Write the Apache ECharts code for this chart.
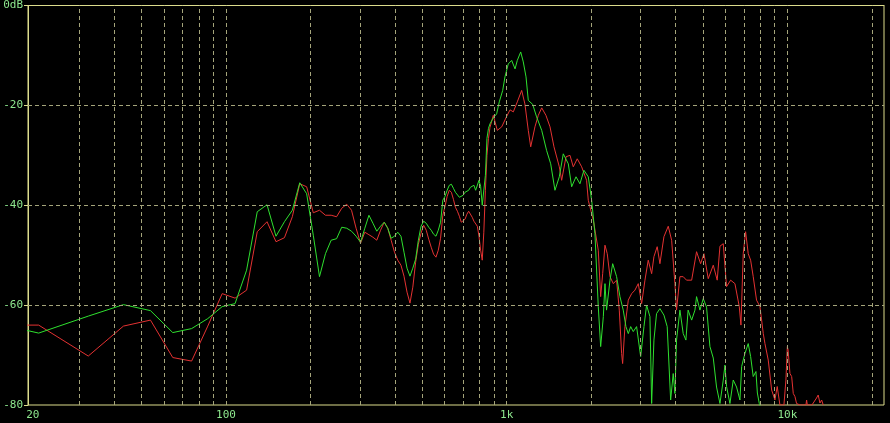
<!DOCTYPE html>
<html>
<head>
<meta charset="utf-8">
<script src="https://cdn.jsdelivr.net/npm/echarts@6/dist/echarts.min.js"></script>
<style>
html,body{margin:0;padding:0;background:#000;}
#c{width:890px;height:423px;}
</style>
</head>
<body>
<div id="c"></div>
<script>
// ---- tick labels ----
const xTickValues = [20, 100, 1000, 10000];
const xTickLabels = ['20', '100', '1k', '10k'];
const yTickValues = [0, -20, -40, -60, -80];
const yTickLabels = ['0dB', '-20', '-40', '-60', '-80'];
const gridFreqs = [30, 40, 50, 60, 70, 80, 90, 100, 200, 300, 400, 500, 600, 700, 800, 900,
  1000, 2000, 3000, 4000, 5000, 6000, 7000, 8000, 9000, 10000, 20000];
const gridDbs = [-20, -40, -60];

// ---- red trace (Hz, dB) ----
const redFreq = [10.8, 21.5, 32.3, 43.1, 53.8, 64.6, 75.4, 86.1, 96.9, 107.7, 118.4, 129.2, 140.0, 150.7, 161.5, 172.3, 183.1, 193.8, 204.6, 215.3,
  226.1, 236.9, 247.7, 258.4, 269.2, 280.0, 290.7, 301.5, 312.3, 323.0, 333.8, 344.5, 355.3, 366.2, 377.0, 387.6, 398.4, 409.2, 420.0, 430.7,
  441.5, 452.3, 463.0, 473.8, 484.5, 495.3, 506.0, 516.8, 527.6, 538.3, 549.0, 559.9, 570.6, 581.4, 592.2, 603.0, 613.7, 624.5, 635.3, 646.0,
  656.7, 667.5, 678.3, 689.0, 699.8, 710.6, 721.4, 732.1, 742.9, 753.7, 764.4, 775.2, 786.0, 796.7, 807.5, 818.3, 829.0, 839.8, 850.6, 861.3,
  872, 896, 926, 960, 1000, 1028, 1056, 1091, 1131, 1161, 1194, 1218, 1261, 1296, 1333, 1380, 1427, 1474, 1540, 1570,
  1627, 1681, 1727, 1784, 1850, 1926, 1953, 2036, 2120, 2162, 2198, 2240, 2282, 2334, 2398, 2464, 2519, 2568, 2589, 2638,
  2712, 2788, 2864, 2943, 3026, 3109, 3194, 3285, 3347, 3438, 3516, 3633, 3764, 3870, 3976, 4029, 4142, 4256, 4373, 4561,
  4748, 4910, 5045, 5226, 5446, 5625, 5753, 5911, 6073, 6280, 6505, 6741, 6834, 6964, 7101, 7255, 7400, 7559, 7767, 7988,
  8208, 8322, 8550, 8792, 9032, 9202, 9410, 9724, 9884, 10000, 10064, 10217, 10361, 10498, 10644, 10786, 11090, 11650, 11711, 11780,
  12236, 12707, 12880, 13065, 13249, 13424];
const redDb = [-64.0, -64.0, -70.2, -64.2, -63.0, -70.5, -71.2, -64.2, -57.7, -58.6, -57.0, -45.3, -43.3, -47.3, -46.5, -42.3, -35.7, -36.3, -41.5, -41.0,
  -42.0, -42.0, -42.3, -40.6, -39.8, -41.0, -44.6, -47.6, -45.4, -45.9, -46.4, -47.0, -45.0, -43.4, -44.6, -47.0, -49.4, -51.0, -52.0, -54.2,
  -57.4, -59.6, -56.4, -51.4, -47.8, -45.6, -44.0, -45.0, -46.8, -48.4, -49.8, -50.4, -49.0, -46.6, -42.0, -40.2, -38.2, -37.0, -37.4, -38.8,
  -40.4, -41.2, -42.2, -43.4, -43.8, -42.8, -41.8, -41.2, -41.6, -42.4, -43.2, -43.6, -44.2, -46.2, -49.0, -51.0, -45.4, -37.0, -30.0, -26.6,
  -24.4, -22.0, -25.0, -24.3, -22.2, -20.9, -21.3, -19.3, -17.0, -19.7, -25.0, -28.3, -24.3, -22.0, -20.5, -22.0, -24.3, -28.3, -32.3, -35.0,
  -30.3, -30.0, -32.3, -30.7, -32.3, -35.0, -39.0, -43.0, -49.0, -58.3, -53.7, -48.0, -49.7, -54.3, -55.7, -55.0, -61.0, -69.7, -71.7, -64.3,
  -59.0, -57.7, -57.0, -55.7, -59.7, -55.0, -51.0, -53.7, -50.3, -48.3, -51.7, -46.3, -44.2, -47.0, -55.7, -61.0, -54.3, -54.3, -55.0, -55.0,
  -49.3, -51.7, -49.7, -54.7, -52.0, -55.0, -48.2, -47.7, -56.3, -55.0, -55.7, -60.3, -64.0, -49.7, -45.3, -49.7, -51.0, -54.3, -59.0, -60.3,
  -65.7, -67.7, -71.0, -77.0, -79.0, -76.3, -80.0, -80.0, -75.0, -68.3, -69.0, -73.7, -74.3, -77.7, -78.3, -79.7, -80.0, -80.0, -79.0, -80.0,
  -80.0, -78.6, -78.0, -79.6, -79.0, -80.0];

// ---- green trace (Hz, dB) ----
const greenFreq = [10.8, 21.5, 32.3, 43.1, 53.8, 64.6, 75.4, 86.1, 96.9, 107.7, 118.4, 129.2, 140.0, 150.7, 161.5, 172.3, 183.1, 193.8, 204.6, 215.3,
  226.1, 236.9, 247.7, 258.4, 269.2, 280.0, 290.7, 301.5, 312.3, 323.0, 333.8, 344.5, 355.3, 366.2, 377.0, 387.6, 398.4, 409.2, 420.0, 430.7,
  441.5, 452.3, 463.0, 473.8, 484.5, 495.3, 506.0, 516.8, 527.6, 538.3, 549.0, 559.9, 570.6, 581.4, 592.2, 603.0, 613.7, 624.5, 635.3, 646.0,
  656.7, 667.5, 678.3, 689.0, 699.8, 710.6, 721.4, 732.1, 742.9, 753.7, 764.4, 775.2, 786.0, 796.7, 807.5, 818.3, 829.0, 839.8, 850.6, 861.3,
  872, 896, 921, 941, 968, 986, 1013, 1042, 1071, 1091, 1122, 1146, 1172, 1194, 1238, 1278, 1333, 1387, 1435, 1486,
  1540, 1591, 1658, 1704, 1766, 1824, 1885, 1953, 2008, 2063, 2120, 2162, 2210, 2240, 2269, 2334, 2386, 2464, 2533, 2602,
  2660, 2712, 2766, 2825, 2903, 3002, 3084, 3151, 3239, 3285, 3347, 3420, 3516, 3633, 3732, 3839, 3921, 3976, 4029, 4142,
  4256, 4351, 4430, 4561, 4686, 4748, 4882, 5016, 5154, 5299, 5446, 5594, 5753, 5911, 5994, 6073, 6244, 6416, 6592, 6778,
  6874, 6964, 7061, 7255, 7400, 7559, 7728, 7820, 7944, 8121];
const greenDb = [-61.8, -65.6, -62.2, -59.9, -61.1, -65.5, -64.7, -62.7, -60.3, -59.7, -53.0, -41.3, -39.9, -46.2, -43.3, -41.0, -35.5, -37.7, -46.0, -54.3,
  -49.7, -47.0, -46.7, -44.4, -44.6, -45.2, -46.2, -47.4, -44.6, -42.0, -43.6, -45.2, -44.2, -43.4, -44.6, -46.6, -46.2, -45.4, -46.2, -49.4,
  -52.6, -54.2, -52.6, -50.8, -47.0, -44.2, -43.2, -43.6, -44.4, -45.0, -45.8, -46.2, -45.0, -43.4, -39.0, -38.2, -37.0, -36.0, -35.8, -36.6,
  -37.4, -37.8, -38.4, -38.6, -38.0, -37.4, -37.2, -37.0, -36.4, -36.2, -36.0, -37.0, -37.4, -35.0, -36.2, -40.0, -40.4, -34.0, -26.6, -24.6,
  -23.7, -22.5, -21.7, -19.3, -17.0, -14.3, -11.7, -11.0, -12.7, -11.0, -9.3, -11.3, -14.3, -19.0, -19.8, -22.3, -25.0, -29.0, -31.7, -37.0,
  -34.3, -29.7, -31.7, -36.3, -34.3, -35.7, -33.0, -34.3, -39.0, -45.7, -60.3, -68.3, -62.3, -55.7, -61.0, -55.0, -51.7, -54.3, -58.3, -61.0,
  -64.3, -65.7, -64.3, -65.3, -64.3, -70.3, -64.3, -60.0, -62.3, -79.7, -67.0, -61.7, -60.7, -62.0, -64.3, -79.0, -73.7, -77.7, -67.0, -61.0,
  -65.7, -67.0, -61.0, -63.0, -61.0, -58.3, -61.0, -58.7, -60.4, -68.3, -70.6, -76.4, -79.7, -75.0, -72.0, -76.3, -79.7, -75.0, -76.4, -79.0,
  -72.3, -71.0, -69.7, -67.7, -70.3, -74.3, -73.3, -77.6, -79.7, -81.0];

const FRAME = '#dcdc8c';
const GRIDC = '#a4a47a';
const LABEL = '#8ee88e';

const chart = echarts.init(document.getElementById('c'), null, {renderer: 'canvas'});
const gridLineData = gridFreqs.map(f => ({xAxis: f})).concat(gridDbs.map(d => ({yAxis: d})));

chart.setOption({
  backgroundColor: '#000',
  animation: false,
  grid: {left: 28, top: 5, width: 856, height: 400, show: true, borderColor: FRAME, borderWidth: 1, backgroundColor: '#000'},
  xAxis: {
    type: 'log', logBase: 10, min: 19.7, max: 22100,
    axisLine: {show: true, lineStyle: {color: FRAME, width: 1}},
    axisTick: {show: false},
    minorTick: {show: false},
    splitLine: {show: false},
    axisLabel: {
      customValues: xTickValues,
      color: LABEL, fontFamily: 'DejaVu Sans Mono', fontSize: 11, margin: 5,
      formatter: function (v) {
        const i = xTickValues.indexOf(Math.round(v));
        const t = i >= 0 ? xTickLabels[i] : '';
        return i === 0 ? '{a|' + t + '}' : t;
      },
      rich: {a: {color: LABEL, fontFamily: 'DejaVu Sans Mono', fontSize: 11, padding: [0, 0, 0, 6]}}
    }
  },
  yAxis: {
    type: 'value', min: -80, max: 0, interval: 20,
    axisLine: {show: true, lineStyle: {color: FRAME, width: 1}},
    axisTick: {show: true, length: 4, lineStyle: {color: FRAME}},
    splitLine: {show: false},
    axisLabel: {
      color: LABEL, fontFamily: 'DejaVu Sans Mono', fontSize: 11, margin: 5,
      formatter: function (v) {
        const i = yTickValues.indexOf(v);
        return i >= 0 ? yTickLabels[i] : '';
      }
    }
  },
  series: [
    {
      type: 'line', data: [], z: 1, silent: true,
      markLine: {
        silent: true, symbol: 'none', animation: false,
        label: {show: false},
        lineStyle: {color: GRIDC, type: [4, 3], width: 1},
        data: gridLineData
      }
    },
    {
      name: 'red', type: 'line', z: 2, showSymbol: false, clip: true,
      lineStyle: {color: '#e43232', width: 1}, itemStyle: {color: '#e43232'},
      data: redFreq.map((f, i) => [f, redDb[i]])
    },
    {
      name: 'green', type: 'line', z: 3, showSymbol: false, clip: true,
      lineStyle: {color: '#2fe02f', width: 1}, itemStyle: {color: '#2fe02f'},
      data: greenFreq.map((f, i) => [f, greenDb[i]])
    }
  ]
});
</script>
</body>
</html>
